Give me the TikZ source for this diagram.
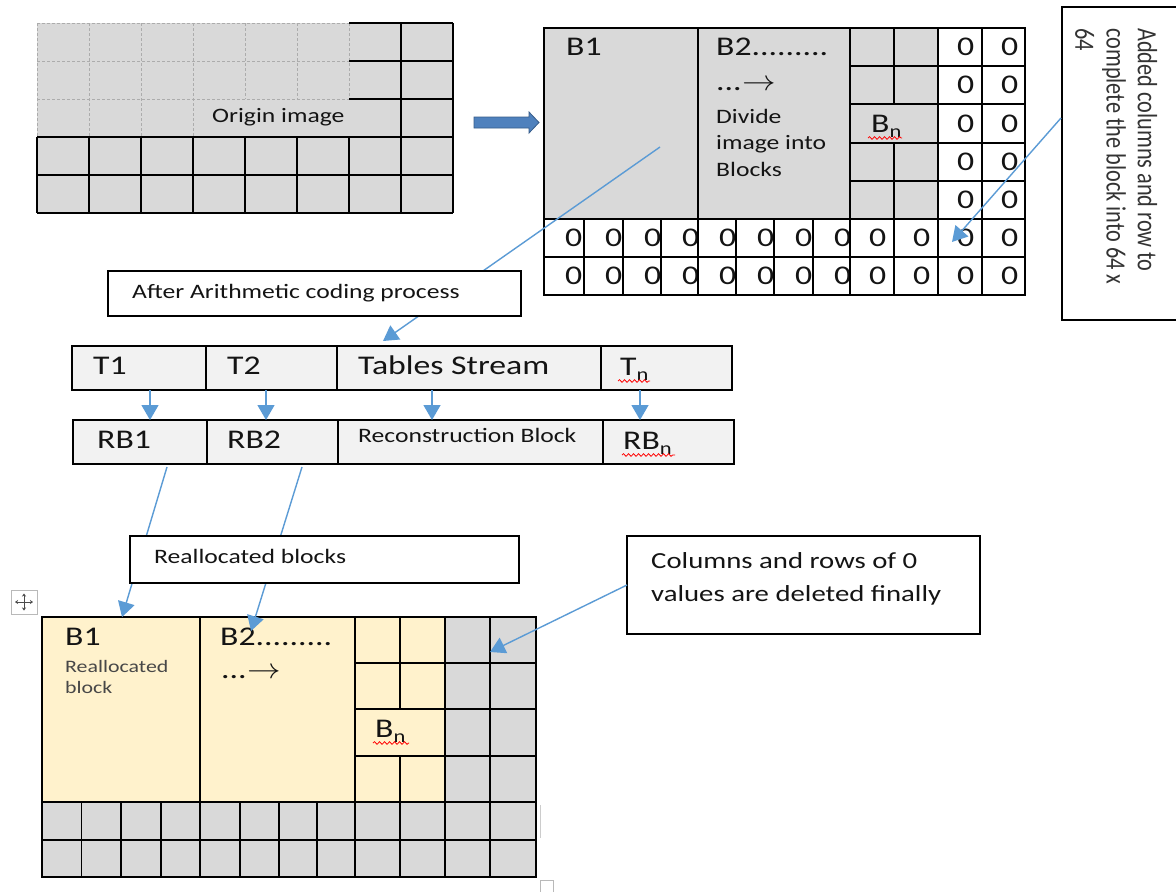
\documentclass[tikz,border=0pt]{standalone}
\usepackage{fontspec}
\setmainfont{Carlito}[FakeStretch=1.25]
\newfontfamily\rotfont{Carlito}
\usetikzlibrary{arrows.meta,decorations.pathmorphing}
\definecolor{gfill}{HTML}{D9D9D9}
\definecolor{lfill}{HTML}{F2F2F2}
\definecolor{cream}{HTML}{FFF2CC}
\definecolor{cblue}{HTML}{5B9BD5}
\definecolor{ablue}{HTML}{4F81BD}
\definecolor{abluedark}{HTML}{385D8A}
\newcommand\lown{\raisebox{-5pt}{\fontsize{18}{18}\selectfont n}}
\newcommand\bigarr{\kern1pt\scalebox{1.35}[1.15]{$\rightarrow$}}
\begin{document}
\begin{tikzpicture}[x=1pt,y=-1pt,
  gridline/.style={draw=black, line width=1.8pt},
  dgrid/.style={draw=gray!65, line width=1pt, dash pattern=on 3pt off 2pt},
  conn/.style={draw=cblue, line width=1.4pt, -{Triangle[length=15pt,width=17pt]}},
  lbl/.style={inner sep=0pt, anchor=base west, text=black!92},
  big/.style={lbl, font=\fontsize{27}{32}\selectfont},
  mid/.style={lbl, font=\fontsize{20.5}{25}\selectfont},
  colf/.style={lbl, font=\fontsize{23}{28}\selectfont},
  smalltxt/.style={lbl, font=\fontsize{17.5}{21}\selectfont, text=black!72},
  zero/.style={inner sep=0pt, anchor=west, font=\fontsize{27}{32}\selectfont, text=black!92},
  box/.style={draw=black, line width=1.8pt, fill=white, inner sep=0pt, outer sep=0pt},
  tcell/.style={draw=black, line width=1.8pt, fill=lfill, inner sep=0pt, outer sep=0pt, minimum height=44pt, anchor=north west},
  squig/.style={draw=red, line width=0.8pt, decorate, decoration={snake, amplitude=1.3pt, segment length=5pt}}
]
\useasboundingbox (0,0) rectangle (1176,892);
\fill[white] (0,0) rectangle (1176,892);

% ---------------- Origin image ----------------
\fill[gfill] (37,23) rectangle (453,213);
\draw[dgrid] (37,23) -- (349,23) (37,61) -- (349,61) (37,99) -- (349,99);
\draw[dgrid] (37,23) -- (37,137) (89,23) -- (89,137) (141,23) -- (141,137) (193,23) -- (193,137)
  (245,23) -- (245,99) (297,23) -- (297,99) (349,23) -- (349,99);
\draw[gridline] (349,23) -- (453,23) (349,61) -- (453,61) (349,99) -- (453,99);
\draw[gridline] (37,137) -- (453,137) (37,175) -- (453,175) (37,213) -- (453,213);
\draw[gridline] (401,23) -- (401,213) (453,23) -- (453,213);
\foreach \x in {37,89,141,193,245,297,349} \draw[gridline] (\x,137) -- (\x,213);
\node[mid] (orig) at (212,122) {Origin image};

% block arrow
\draw[fill=ablue, draw=abluedark, line width=0.8pt] (474,117) -- (529,117) -- (529,112) -- (539,122.5) -- (529,133) -- (529,128) -- (474,128) -- cycle;

% ---------------- Top-right divided grid ----------------
\fill[gfill] (544,28) rectangle (938,219);
\fill[white] (938,28) rectangle (1025,295) (544,219) rectangle (938,295);
\foreach \c/\l in {a/938,b/982}
  \foreach \i/\r in {0/47,1/85,2/124,3/162,4/200}
    \node[zero] (z\c\i) at (\l+19,\r) {0};
\foreach \j/\l in {0/544,1/584,2/623,3/661,4/698,5/736,6/774,7/813}
  \foreach \k/\r in {0/238,1/276}
    \node[zero] (zn\j\k) at (\l+21,\r) {0};
\foreach \j/\l in {8/850,9/894,10/938,11/982}
  \foreach \k/\r in {0/238,1/276}
    \node[zero] (zw\j\k) at (\l+19,\r) {0};
\draw[gridline] (544,28) rectangle (1025,295);
\draw[gridline] (698,28) -- (698,219) (850,28) -- (850,219) (894,28) -- (894,104) (894,143) -- (894,219)
  (938,28) -- (938,295) (982,28) -- (982,295);
\foreach \y in {66,104,143,181} \draw[gridline] (850,\y) -- (1025,\y);
\draw[gridline] (544,219) -- (1025,219) (544,257) -- (1025,257);
\foreach \x in {584,623,661,698,736,774,813,850,894} \draw[gridline] (\x,219) -- (\x,295);
\node[big] (trb1) at (566,55) {B1};
\node[big] (trb2) at (716,55) {B2.........};
\node[big] (trdots) at (716,90) {...\bigarr};
\node[mid] (div1) at (716,123) {Divide};
\node[mid] (div2) at (716,149.5) {image into};
\node[mid] (div3) at (716,176) {Blocks};
\node[big] (trbn) at (871,132) {B\lown};
\draw[squig] (868,138) -- (902,138);

% rotated note box
\draw[gridline] (1176,7) -- (1062,7) -- (1062,320) -- (1176,320);
\node[inner sep=0pt, anchor=north east, text=black!80] (addtxt) at (1160,28)
  {\rotatebox{-90}{\scalebox{1}[1.25]{\rotfont\fontsize{22.3}{25}\selectfont\begin{tabular}{@{}l@{}}Added columns and row to\\complete the block into 64 x\\64\end{tabular}}}};
\coordinate (addsrc) at (1061,118);
\coordinate (addtip) at (952,242);
\draw[conn] (addsrc) -- (addtip);

% ---------------- Tables rows ----------------
\node[tcell, minimum width=134pt] (t1) at (72,346) {};
\node[tcell, minimum width=131pt] (t2) at (206,346) {};
\node[tcell, minimum width=264pt] (ts) at (337,346) {};
\node[tcell, minimum width=131pt] (tn) at (601,346) {};
\node[tcell, minimum width=134pt] (rb1) at (73,420) {};
\node[tcell, minimum width=131pt] (rb2) at (207,420) {};
\node[tcell, minimum width=265pt] (rbs) at (338,420) {};
\node[tcell, minimum width=131pt] (rbn) at (603,420) {};
\node[big] (lt1) at (93,374) {T1};
\node[big] (lt2) at (227,374) {T2};
\node[big] (lts) at (358,374) {Tables Stream};
\node[big] (ltn) at (620,375) {T\lown};
\draw[squig] (618,381) -- (650,381);
\node[big] (lrb1) at (97,448) {RB1};
\node[big] (lrb2) at (227,448) {RB2};
\node[mid] (lrbs) at (358,442) {Reconstruction Block};
\node[big] (lrbn) at (623,449) {RB\lown};
\draw[squig] (622,455) -- (675,455);

\coordinate (a1) at ([xshift=11pt]t1.south);
\coordinate (a2) at ([xshift=-5.5pt]t2.south);
\coordinate (a3) at ([xshift=-37pt]ts.south);
\coordinate (a4) at ([xshift=-26.5pt]tn.south);
\foreach \a/\b in {a1/rb1,a2/rb2,a3/rbs,a4/rbn}
  \draw[conn] (\a) -- (\a |- \b.north);

% connector from B1 behind "After" box
\coordinate (b1src) at (660,147);
\coordinate (tsin) at (383,341);
\draw[conn] (b1src) -- (tsin);
\node[box, minimum width=413pt, minimum height=45pt, anchor=north west] (after) at (108,271) {};
\node[mid] (lafter) at (132,298) {After Arithmetic coding process};

% ---------------- Bottom reallocated grid ----------------
\fill[cream] (42,617) rectangle (445,802);
\fill[gfill] (445,617) rectangle (536,802) (42,802) rectangle (536,877);
\draw[gridline] (42,617) rectangle (536,877);
\draw[gridline] (200,617) -- (200,802) (355,617) -- (355,802) (400,617) -- (400,709) (400,756) -- (400,802)
  (445,617) -- (445,877) (490,617) -- (490,877);
\foreach \y in {663,709,756} \draw[gridline] (355,\y) -- (536,\y);
\draw[gridline] (42,802) -- (536,802) (42,840) -- (536,840);
\foreach \x in {81.5,121,160.7,200,240,278.6,317,355,400} \draw[gridline] (\x,802) -- (\x,877);
\node[big] (bb1) at (65,645) {B1};
\node[smalltxt] (bre1) at (65,672) {Reallocated};
\node[smalltxt] (bre2) at (65,693) {block};
\node[big] (bb2) at (220,645) {B2.........};
\node[big] (bdots) at (221,678) {...\bigarr};
\node[big] (bbn) at (375,737) {B\lown};
\draw[squig] (373,743) -- (409,743);

% connectors RB -> bottom grid, behind "Reallocated blocks" box
\coordinate (rbsrc1) at (167,467);
\coordinate (rbsrc2) at (302,467);
\coordinate (bgtip1) at (122,617);
\coordinate (bgtip2) at (251,631);
\draw[conn] (rbsrc1) -- (bgtip1);
\draw[conn] (rbsrc2) -- (bgtip2);
\node[box, minimum width=389pt, minimum height=47pt, anchor=north west] (realloc) at (130,536) {};
\node[mid] (lrealloc) at (154,563) {Reallocated blocks};

% "Columns and rows" note
\node[box, minimum width=353pt, minimum height=98pt, anchor=north west] (colbox) at (627,536) {};
\node[colf] (lcol1) at (651,568) {Columns and rows of 0};
\node[colf] (lcol2) at (651,601) {values are deleted finally};
\coordinate (coltip) at (490,652);
\draw[conn] (colbox.west) -- (coltip);

% Word table artefacts
\draw[gray!55, line width=0.9pt, fill=white] (11,590) rectangle (37,614);
\draw[black!70, line width=0.9pt, -{Stealth[length=3pt,width=4pt]}] (24,602) -- (24,593.5);
\draw[black!70, line width=0.9pt, -{Stealth[length=3pt,width=4pt]}] (24,602) -- (24,610.5);
\draw[black!70, line width=0.9pt, -{Stealth[length=3pt,width=4pt]}] (24,602) -- (15,602);
\draw[black!70, line width=0.9pt, -{Stealth[length=3pt,width=4pt]}] (24,602) -- (33,602);
\draw[gray!40, line width=1pt] (540,805) -- (540,838);
\draw[gray!55, line width=0.9pt] (540,892) -- (540,880) -- (553,880) -- (553,892);
\end{tikzpicture}
\end{document}
